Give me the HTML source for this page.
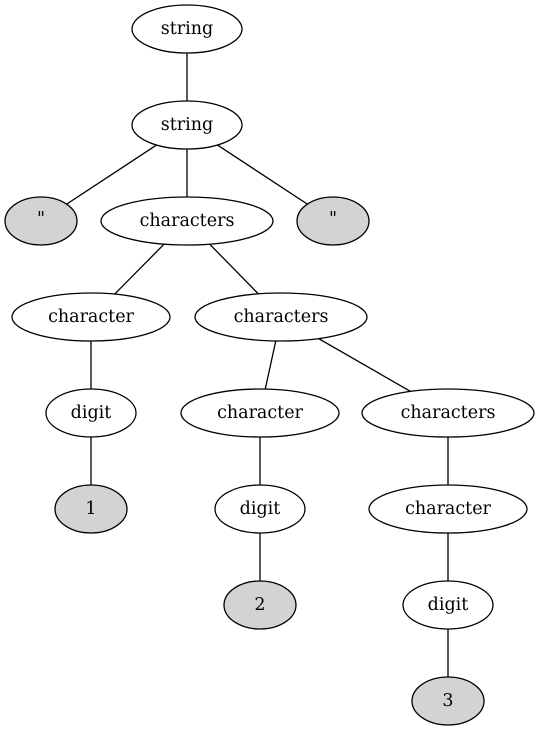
<!DOCTYPE html>
<html><head><meta charset="utf-8"><style>
html,body{margin:0;padding:0;background:#fff;}
svg{display:block;}
text{font-family:"DejaVu Serif","Liberation Serif",serif;font-size:17.5px;text-anchor:middle;dominant-baseline:central;fill:#000;}
ellipse{stroke:#000;stroke-width:1.3;}
line{stroke:#000;stroke-width:1.3;}
</style></head><body>
<svg width="539" height="731" viewBox="0 0 539 731">
<g>
<line x1="187" y1="29" x2="187" y2="125"/>
<line x1="187" y1="125" x2="41" y2="221"/>
<line x1="187" y1="125" x2="187" y2="221"/>
<line x1="187" y1="125" x2="333" y2="221"/>
<line x1="187" y1="221" x2="92" y2="317"/>
<line x1="187" y1="221" x2="281" y2="317"/>
<line x1="91" y1="317" x2="91" y2="413"/>
<line x1="281" y1="317" x2="260" y2="413"/>
<line x1="281" y1="317" x2="448" y2="413"/>
<line x1="91" y1="413" x2="91" y2="509"/>
<line x1="260" y1="413" x2="260" y2="509"/>
<line x1="448" y1="413" x2="448" y2="509"/>
<line x1="260" y1="509" x2="260" y2="605"/>
<line x1="448" y1="509" x2="448" y2="605"/>
<line x1="448" y1="605" x2="448" y2="701"/>
</g>
<g>
<ellipse cx="187" cy="29" rx="55" ry="24" fill="#fff"/><text x="187" y="29">string</text>
<ellipse cx="187" cy="125" rx="55" ry="24" fill="#fff"/><text x="187" y="125">string</text>
<ellipse cx="41" cy="221" rx="36" ry="24" fill="#d3d3d3"/><text x="41" y="219">"</text>
<ellipse cx="187" cy="221" rx="86" ry="24" fill="#fff"/><text x="187" y="221">characters</text>
<ellipse cx="333" cy="221" rx="36" ry="24" fill="#d3d3d3"/><text x="333" y="219">"</text>
<ellipse cx="91" cy="317" rx="79" ry="24" fill="#fff"/><text x="91" y="317">character</text>
<ellipse cx="281" cy="317" rx="86" ry="24" fill="#fff"/><text x="281" y="317">characters</text>
<ellipse cx="91" cy="413" rx="45" ry="24" fill="#fff"/><text x="91" y="413">digit</text>
<ellipse cx="260" cy="413" rx="79" ry="24" fill="#fff"/><text x="260" y="413">character</text>
<ellipse cx="448" cy="413" rx="86" ry="24" fill="#fff"/><text x="448" y="413">characters</text>
<ellipse cx="91" cy="509" rx="36" ry="24" fill="#d3d3d3"/><text x="91" y="509">1</text>
<ellipse cx="260" cy="509" rx="45" ry="24" fill="#fff"/><text x="260" y="509">digit</text>
<ellipse cx="448" cy="509" rx="79" ry="24" fill="#fff"/><text x="448" y="509">character</text>
<ellipse cx="260" cy="605" rx="36" ry="24" fill="#d3d3d3"/><text x="260" y="605">2</text>
<ellipse cx="448" cy="605" rx="45" ry="24" fill="#fff"/><text x="448" y="605">digit</text>
<ellipse cx="448" cy="701" rx="36" ry="24" fill="#d3d3d3"/><text x="448" y="701">3</text>
</g>
</svg>
</body></html>
